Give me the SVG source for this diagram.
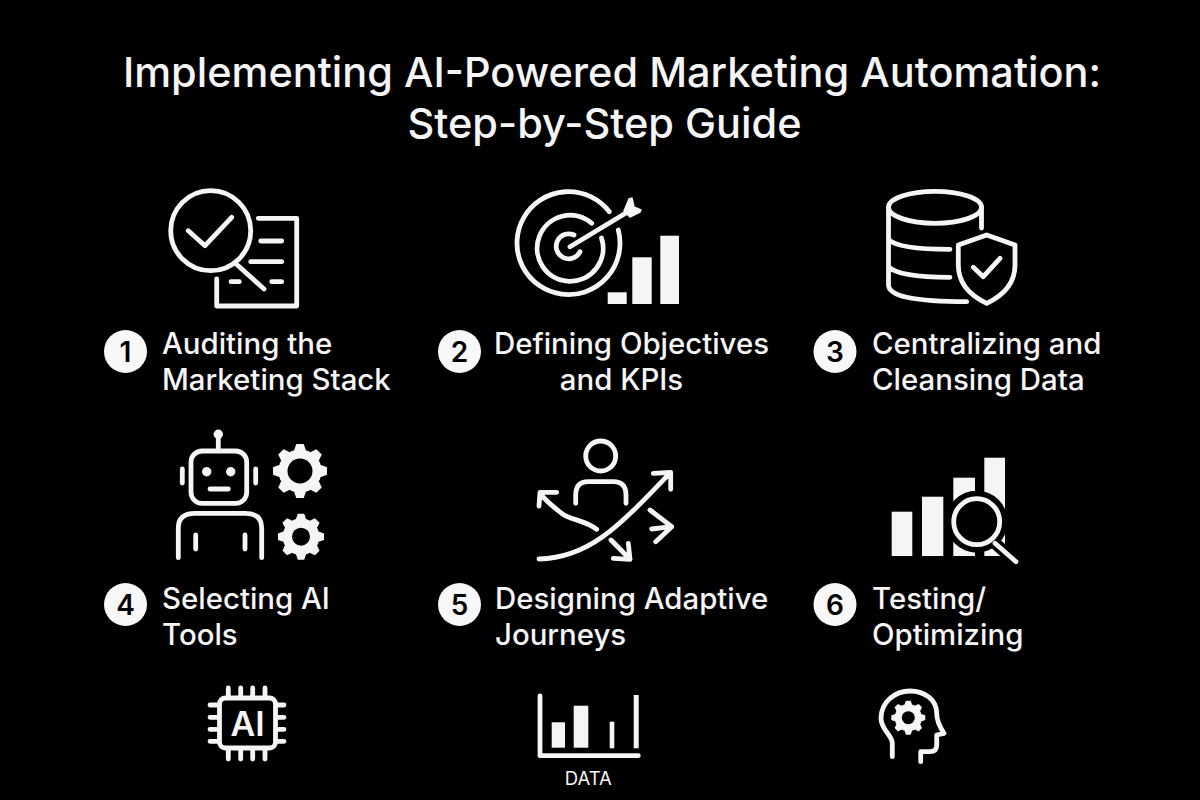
<svg xmlns="http://www.w3.org/2000/svg" width="1200" height="800" viewBox="0 0 1200 800">
<style>
.bg{fill:#000}
.t{font-family:Inter,"Liberation Sans",sans-serif;fill:#f5f5f5;font-weight:500}
.title{font-size:41.5px}
.lab{font-size:29.4px}
.num{font-family:Inter,"Liberation Sans",sans-serif;font-size:28px;font-weight:600;fill:#000;text-anchor:middle}
.badge{fill:#f8f8f8}
.s{fill:none;stroke:#f5f5f5;stroke-width:4.8;stroke-linecap:round;stroke-linejoin:round}
.f{fill:#f5f5f5}
.k{fill:#000}
</style>
<defs>
<g id="gear" class="f">
<circle r="80"/>
<path id="bar" d="M-100-14-80-21H80L100-14V14L80 21H-80L-100 14Z"/>
<use href="#bar" transform="rotate(45)"/>
<use href="#bar" transform="rotate(90)"/>
<use href="#bar" transform="rotate(135)"/>
</g>
</defs>
<rect class="bg" width="1200" height="800"/>
<g id="title">
<text class="t title" x="612" y="87" text-anchor="middle">Implementing AI-Powered Marketing Automation:</text>
<text class="t title" x="604.500" y="138" text-anchor="middle">Step-by-Step Guide</text>
</g>
<g id="step1">
<circle class="s" cx="210.700" cy="230.700" r="40"/>
<path class="s" d="M188.300 230.700 205 245.700 231.700 217.300M258.300 218.300H296.700V306H216.700V279M260.700 241H281.700M250.700 261.700H281.700M231 281.700H239.300M271.700 281.700H281.700M237.300 265 264 289"/>
<circle class="badge" cx="125.500" cy="351.500" r="21.500"/><text class="num" x="125.500" y="361.500">1</text>
<text class="t lab" x="162" y="353.500">Auditing the</text>
<text class="t lab" x="162" y="390">Marketing Stack</text>
</g>
<g id="step2">
<path class="s" d="M609.300 211.700A51.500 51.500 0 1 0 618.300 230M591.700 223.300A33 33 0 1 0 601.500 238M574 235A12.500 12.500 0 1 0 580 251.700M570 246.700 628 211.700"/>
<path class="f" stroke="#f5f5f5" stroke-width="1.500" stroke-linejoin="round" d="M624 211 629 199 632 198 634 207 641 210 640 212 630 217Z"/>
<rect class="f" x="607.700" y="292.300" width="19" height="11.700"/>
<rect class="f" x="632.300" y="257.300" width="19.400" height="46.700"/>
<rect class="f" x="660.300" y="235.700" width="18.700" height="68.300"/>
<circle class="badge" cx="459.500" cy="351.500" r="21.500"/><text class="num" x="459.500" y="361.500">2</text>
<text class="t lab" x="631.500" y="353.500" text-anchor="middle">Defining Objectives</text>
<text class="t lab" x="621.500" y="390" text-anchor="middle">and KPIs</text>
</g>
<g id="step3">
<ellipse class="s" cx="935" cy="207.300" rx="46.500" ry="16"/>
<path class="s" d="M888.500 207.300V285Q888.500 301.700 966.700 301.700M981.500 207.300V228M888.500 239.300Q898 249.300 950 249.300M888.500 266.700Q898 277.300 950 277.300M986.700 235 958.300 245V265Q958.300 290 986.700 303.300 1015 290 1015 265V245ZM973.300 267.300 983.300 276.700 1000 258.300"/>
<circle class="badge" cx="835" cy="351.500" r="21.500"/><text class="num" x="835" y="361.500">3</text>
<text class="t lab" x="872" y="353.500">Centralizing and</text>
<text class="t lab" x="872" y="390">Cleansing Data</text>
</g>
<g id="step4">
<circle class="f" cx="218.300" cy="434.300" r="4.700"/>
<rect class="s" x="191" y="451" width="55.700" height="52.300" rx="11"/>
<circle class="f" cx="206.700" cy="471.700" r="4.700"/><circle class="f" cx="230.700" cy="471.700" r="4.700"/>
<path class="s" d="M218.300 436V450M210 489H228.300M182.300 469V483M255.700 469V483M178.300 557.700V528Q178.300 513.300 195 513.300H245Q261.700 513.300 261.700 528V557.700M195.700 535V549M245 535V549"/>
<use href="#gear" transform="translate(300 471) scale(.27)"/><circle class="k" cx="300" cy="471" r="12.500"/>
<use href="#gear" transform="translate(301 536.700) scale(.23)"/><circle class="k" cx="301" cy="536.700" r="9"/>
<circle class="badge" cx="125.500" cy="604.500" r="21.500"/><text class="num" x="125.500" y="614.500">4</text>
<text class="t lab" x="162" y="608.500">Selecting AI</text>
<text class="t lab" x="162" y="645">Tools</text>
</g>
<g id="step5">
<circle class="s" cx="600.700" cy="456" r="15"/>
<path class="s" d="M575.700 503.300V495Q575.700 481.700 588.300 481.700H613.300Q626 481.700 626 495V503.300M539 559C590 558 620 525 670 473M653.300 473.300 670.700 472.300 670.700 489.300M596.700 529.300C585 520 570 520 561.700 513.300 552 506 545 500 540 493.300M556.700 492.300 540 492.300 539 506M611 540 630 559.300M628.300 543.300 630 559.300 613.300 558.300M650 510 671.700 526.700 655.700 541.700M651.700 529 671.700 526.700"/>
<circle class="badge" cx="459.500" cy="604.500" r="21.500"/><text class="num" x="459.500" y="614.500">5</text>
<text class="t lab" x="495" y="608.500">Designing Adaptive</text>
<text class="t lab" x="495" y="645">Journeys</text>
</g>
<g id="step6">
<rect class="f" x="891.700" y="511.700" width="20.600" height="44.300"/>
<rect class="f" x="922" y="496.700" width="21.300" height="59.300"/>
<rect class="f" x="953.300" y="477.700" width="21.700" height="78.300"/>
<rect class="f" x="984.300" y="457.700" width="20.700" height="98.300"/>
<circle class="k" cx="976.700" cy="521.700" r="31"/>
<path d="M995 543.300 1016 561.700" fill="none" stroke="#000" stroke-width="12"/>
<circle class="s" cx="976.700" cy="521.700" r="23"/>
<path class="s" d="M995 543.300 1016 561.700"/>
<circle class="badge" cx="835" cy="604.500" r="21.500"/><text class="num" x="835" y="614.500">6</text>
<text class="t lab" x="872" y="608.500">Testing/</text>
<text class="t lab" x="872" y="645">Optimizing</text>
</g>
<g id="chip">
<rect class="s" x="219.500" y="698" width="56" height="50" rx="6"/>
<path class="s" d="M228.300 688V697M240.700 688V697M252.700 688V697M265 688V697M228.300 749V759M240.700 749V759M252.700 749V759M265 749V759M210 705H218M210 717.300H218M210 729.300H218M210 741.300H218M277 705H284M277 717.300H284M277 729.300H284M277 741.300H284"/>
<text class="t" x="247.500" y="735.500" font-size="34" font-weight="600" text-anchor="middle" style="font-weight:600">AI</text>
</g>
<g id="data">
<path class="s" stroke-linecap="butt" d="M540 696V755.700H638.300"/>
<rect class="f" x="551.700" y="722.300" width="13.300" height="25.400"/>
<rect class="f" x="573.700" y="705.700" width="14.600" height="42"/>
<rect class="f" x="609.700" y="721.700" width="4.600" height="26.600"/>
<rect class="f" x="633.700" y="695" width="5" height="53.300"/>
<text class="t" x="588.300" y="784.500" font-size="18.500" text-anchor="middle" style="font-weight:400">DATA</text>
</g>
<g id="brain">
<path class="s" d="M892.300 756.700V743.300C892.300 735 881 730 881 718.300 881 702 895 691 910 691 925 691 936.700 700 936.700 713.300 936.700 718 937.300 723.300 944 733.300L936.700 735V745Q936.700 751.700 930 751.700H920.700V761.700"/>
<use href="#gear" transform="translate(908.300 717.700) scale(.17)"/><circle class="k" cx="908.300" cy="717.700" r="6.500"/>
</g>
</svg>
